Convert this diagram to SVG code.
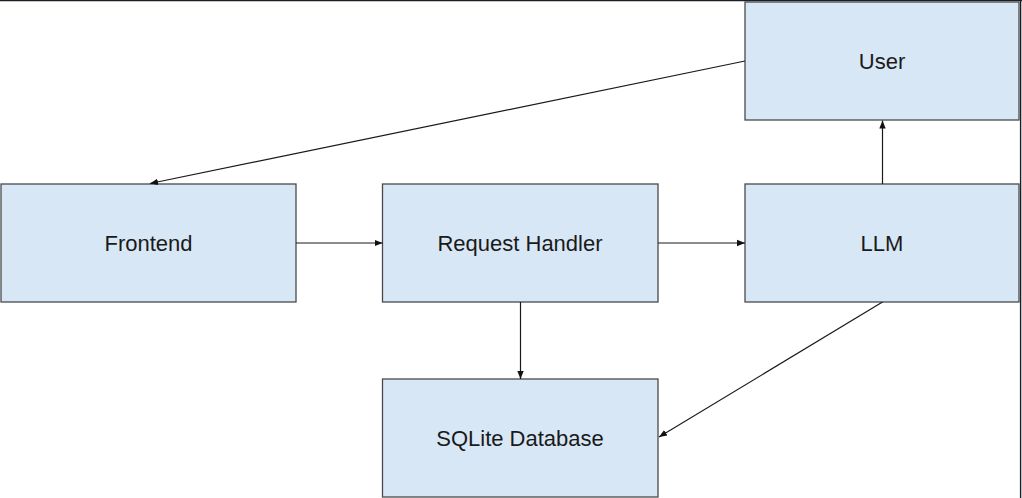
<svg xmlns="http://www.w3.org/2000/svg" width="1022" height="498" viewBox="0 0 1022 498">
<style>
.box{fill:#d8e7f5;stroke:#4a4a4a;stroke-width:1.3}
.lbl{font-family:"Liberation Sans",Arial,sans-serif;font-size:22px;fill:#1a1a1a;text-anchor:middle}
.conn{stroke:#1a1a1a;stroke-width:1.2;fill:none;marker-end:url(#ah)}
</style>
<defs>
<marker id="ah" viewBox="0 0 10 10" refX="10" refY="5" markerWidth="8" markerHeight="8" markerUnits="userSpaceOnUse" orient="auto">
<path d="M0,1 L10,5 L0,9 z" fill="#111"/>
</marker>
</defs>
<rect x="0" y="0" width="1022" height="498" fill="#fff"/>
<line x1="0" y1="0.6" x2="1022" y2="0.6" stroke="#1b1e27" stroke-width="1.4"/>
<line x1="1020.6" y1="0" x2="1020.6" y2="498" stroke="#1b1e27" stroke-width="1.4"/>
<g id="user"><rect class="box" x="745" y="2" width="274" height="118"/><text class="lbl" x="882" y="69">User</text></g>
<g id="frontend"><rect class="box" x="1" y="184" width="295" height="118"/><text class="lbl" x="148.5" y="251">Frontend</text></g>
<g id="request-handler"><rect class="box" x="382.5" y="184" width="275.5" height="118"/><text class="lbl" x="520" y="251">Request Handler</text></g>
<g id="llm"><rect class="box" x="745" y="184" width="274" height="118"/><text class="lbl" x="882" y="251">LLM</text></g>
<g id="sqlite"><rect class="box" x="382.5" y="379" width="275.5" height="118"/><text class="lbl" x="520" y="446">SQLite Database</text></g>
<g id="connectors">
<line class="conn" x1="745" y1="61" x2="150" y2="183.5"/>
<line class="conn" x1="296" y1="243" x2="382.5" y2="243"/>
<line class="conn" x1="658" y1="243" x2="745" y2="243"/>
<line class="conn" x1="882.5" y1="184" x2="882.5" y2="120.5"/>
<line class="conn" x1="520.5" y1="302" x2="520.5" y2="379"/>
<line class="conn" x1="882.5" y1="302" x2="659" y2="437"/>
</g>
</svg>
